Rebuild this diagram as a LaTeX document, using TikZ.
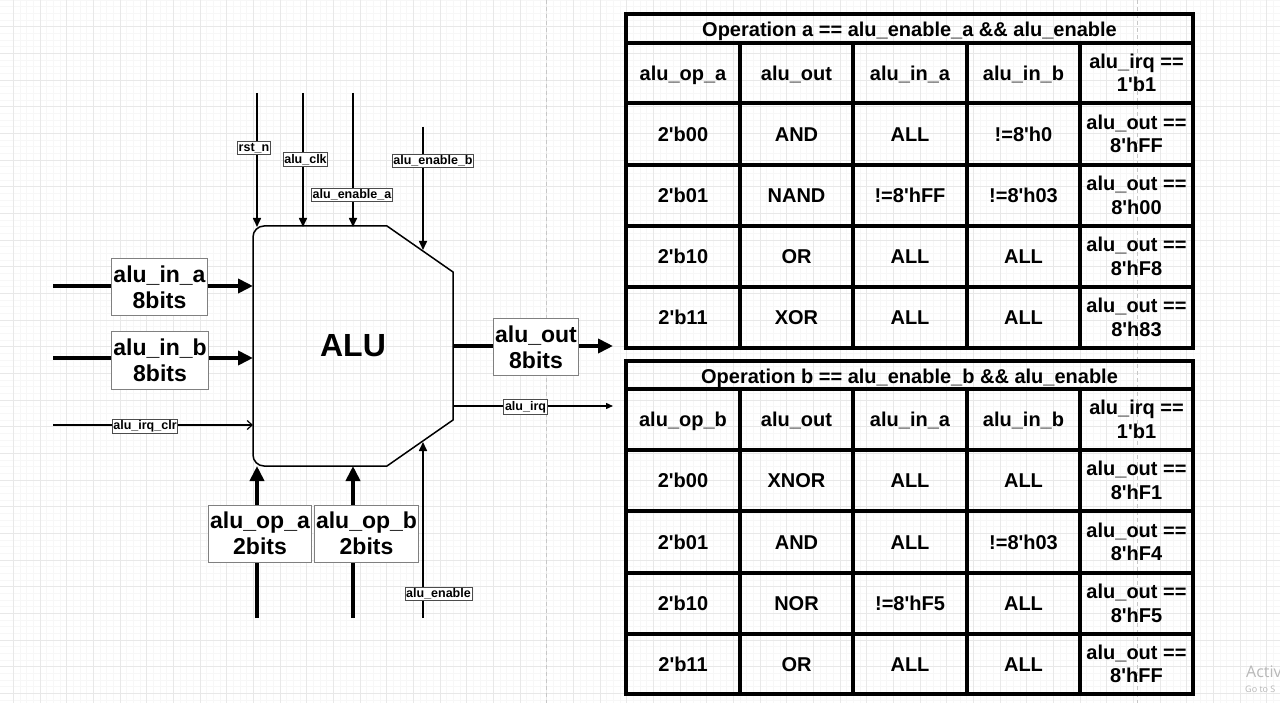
\documentclass[tikz,border=0pt]{standalone}
\usepackage{fontspec}
\newfontfamily\af{Liberation Sans}
\newfontfamily\wmfont{Open Sans}
\usetikzlibrary{arrows.meta}
\begin{document}
\begin{tikzpicture}[x=1pt,y=-1pt]
\tikzset{
 thk/.style={line width=4pt, -{Triangle[length=15pt,width=14pt]}},
 thn/.style={line width=1.6pt, -{Triangle[length=9pt,width=8pt]}},
 hair/.style={line width=1.2pt, -{Straight Barb[length=5pt,width=9pt]}},
 biglbl/.style={draw=black!50, line width=1pt, fill=white, font=\af\bfseries\fontsize{23}{26}\selectfont, align=center, inner xsep=1.5pt, minimum height=57pt},
 smlbl/.style={draw=black!70, line width=0.8pt, fill=white, font=\af\bfseries\fontsize{12.5}{13.5}\selectfont, inner xsep=1.2pt, inner ysep=1.5pt},
 cell2/.style={font=\af\bfseries\fontsize{20}{23.5}\selectfont, align=center, inner sep=0pt},
 cell/.style={font=\af\bfseries\fontsize{20}{23.5}\selectfont, inner sep=0pt, text height=14.5pt, text depth=0pt},
 tbl/.style={line width=3.5pt},
 minorg/.style={black!3, line width=0.6pt},
 majorg/.style={black!9, line width=0.8pt}
}
\useasboundingbox (0,0) rectangle (1280,703);
\fill[white] (0,0) rectangle (1280,703);
% background grid
\foreach \k in {0,...,192} \draw[minorg] (13.333+6.6667*\k,0) -- (13.333+6.6667*\k,703);
\foreach \k in {0,...,106} \draw[minorg] (0,6.6667*\k) -- (1280,6.6667*\k);
\foreach \k in {0,...,47} \draw[majorg] (13.333+26.667*\k,0) -- (13.333+26.667*\k,703);
\foreach \k in {1,...,26} \draw[majorg] (0,26.667*\k) -- (1280,26.667*\k);
\draw[black!22, line width=0.8pt, dash pattern=on 4pt off 3pt] (546,0) -- (546,703);
\draw[black!22, line width=0.8pt, dash pattern=on 4pt off 3pt] (1137,0) -- (1137,703);

% ALU block
\draw[line width=1.5pt, rounded corners=11pt] (320,226) -- (253,226) -- (253,466) -- (320,466)
  [sharp corners] -- (387,466) -- (453,420) -- (453,272) -- (387,226) -- cycle;
\node[font=\af\bfseries\fontsize{32}{34}\selectfont, inner sep=0pt] (alu) at (353,346) {ALU};

% connector end points
\coordinate (rstS) at (257,93);  \coordinate (rstE) at (257,227);
\coordinate (clkS) at (303,93);  \coordinate (clkE) at (303,227);
\coordinate (enaS) at (353,93);  \coordinate (enaE) at (353,227);
\coordinate (enbS) at (423,127); \coordinate (enbE) at (423,250);
\coordinate (inaS) at (53,286);  \coordinate (inaE) at (253,286);
\coordinate (inbS) at (53,358);  \coordinate (inbE) at (253,358);
\coordinate (clrS) at (53,425);  \coordinate (clrE) at (253,425);
\coordinate (opaS) at (257,618); \coordinate (opaE) at (257,466);
\coordinate (opbS) at (353,618); \coordinate (opbE) at (353,466);
\coordinate (enS) at (423,618);  \coordinate (enE) at (423,442);
\coordinate (outS) at (453,346); \coordinate (outE) at (613,346);
\coordinate (irqS) at (453,406); \coordinate (irqE) at (613,406);

\draw[thn] (rstS) -- (rstE);
\draw[thn] (clkS) -- (clkE);
\draw[thn] (enaS) -- (enaE);
\draw[thn] (enbS) -- (enbE);
\draw[thk] (inaS) -- (inaE);
\draw[thk] (inbS) -- (inbE);
\draw[hair] (clrS) -- (clrE);
\draw[thk] (opaS) -- (opaE);
\draw[thk] (opbS) -- (opbE);
\draw[thn] (enS) -- (enE);
\draw[thk] (outS) -- (outE);
\draw[line width=1.3pt, -{Triangle[length=7pt,width=6pt]}] (irqS) -- (irqE);

% labels
\node[smlbl] (lrst) at (254,148) {rst\_n};
\node[smlbl] (lclk) at (305.5,159.5) {alu\_clk};
\node[smlbl] (lena) at (352,195) {alu\_enable\_a};
\node[smlbl] (lenb) at (433,161) {alu\_enable\_b};
\node[smlbl] (lclr) at (145,426.5) {alu\_irq\_clr};
\node[smlbl] (len) at (438.5,594) {alu\_enable};
\node[smlbl] (lirq) at (525.5,407) {alu\_irq};
\node[biglbl] (lina) at (159.5,287.5) {alu\_in\_a\\8bits};
\node[biglbl] (linb) at (160,360.5) {alu\_in\_b\\8bits};
\node[biglbl] (lopa) at (260,533.5) {alu\_op\_a\\2bits};
\node[biglbl] (lopb) at (366.5,533.5) {alu\_op\_b\\2bits};
\node[biglbl] (lout) at (536,347) {alu\_out\\8bits};

% ---------- Table A ----------
\draw[tbl] (626,14) rectangle (1193,348);
\foreach \y in {43,103,165,226,287} \draw[tbl] (626,\y) -- (1193,\y);
\foreach \x in {740,853,967,1080} \draw[tbl] (\x,43) -- (\x,348);
\node[cell] (ta) at (909.5,29.5) {Operation a == alu\_enable\_a \&\& alu\_enable};
\node[cell] (ta01) at (683,73) {alu\_op\_a};
\node[cell] (ta02) at (796.5,73) {alu\_out};
\node[cell] (ta03) at (910,73) {alu\_in\_a};
\node[cell] (ta04) at (1023.5,73) {alu\_in\_b};
\node[cell2] (ta05) at (1136.5,73) {alu\_irq ==\\1\textquotesingle b1};
\node[cell] (ta11) at (683,134) {2\textquotesingle b00};
\node[cell] (ta12) at (796.5,134) {AND};
\node[cell] (ta13) at (910,134) {ALL};
\node[cell] (ta14) at (1023.5,134) {!=8\textquotesingle h0};
\node[cell2] (ta15) at (1136.5,134) {alu\_out ==\\8\textquotesingle hFF};
\node[cell] (ta21) at (683,195.5) {2\textquotesingle b01};
\node[cell] (ta22) at (796.5,195.5) {NAND};
\node[cell] (ta23) at (910,195.5) {!=8\textquotesingle hFF};
\node[cell] (ta24) at (1023.5,195.5) {!=8\textquotesingle h03};
\node[cell2] (ta25) at (1136.5,195.5) {alu\_out ==\\8\textquotesingle h00};
\node[cell] (ta31) at (683,256.5) {2\textquotesingle b10};
\node[cell] (ta32) at (796.5,256.5) {OR};
\node[cell] (ta33) at (910,256.5) {ALL};
\node[cell] (ta34) at (1023.5,256.5) {ALL};
\node[cell2] (ta35) at (1136.5,256.5) {alu\_out ==\\8\textquotesingle hF8};
\node[cell] (ta41) at (683,317.5) {2\textquotesingle b11};
\node[cell] (ta42) at (796.5,317.5) {XOR};
\node[cell] (ta43) at (910,317.5) {ALL};
\node[cell] (ta44) at (1023.5,317.5) {ALL};
\node[cell2] (ta45) at (1136.5,317.5) {alu\_out ==\\8\textquotesingle h83};

% ---------- Table B ----------
\draw[tbl] (626,361) rectangle (1193,694);
\foreach \y in {389,450,511,573,634} \draw[tbl] (626,\y) -- (1193,\y);
\foreach \x in {740,853,967,1080} \draw[tbl] (\x,389) -- (\x,694);
\node[cell] (tb) at (909.5,376) {Operation b == alu\_enable\_b \&\& alu\_enable};
\node[cell] (tb01) at (683,419.5) {alu\_op\_b};
\node[cell] (tb02) at (796.5,419.5) {alu\_out};
\node[cell] (tb03) at (910,419.5) {alu\_in\_a};
\node[cell] (tb04) at (1023.5,419.5) {alu\_in\_b};
\node[cell2] (tb05) at (1136.5,419.5) {alu\_irq ==\\1\textquotesingle b1};
\node[cell] (tb11) at (683,480.5) {2\textquotesingle b00};
\node[cell] (tb12) at (796.5,480.5) {XNOR};
\node[cell] (tb13) at (910,480.5) {ALL};
\node[cell] (tb14) at (1023.5,480.5) {ALL};
\node[cell2] (tb15) at (1136.5,480.5) {alu\_out ==\\8\textquotesingle hF1};
\node[cell] (tb21) at (683,542) {2\textquotesingle b01};
\node[cell] (tb22) at (796.5,542) {AND};
\node[cell] (tb23) at (910,542) {ALL};
\node[cell] (tb24) at (1023.5,542) {!=8\textquotesingle h03};
\node[cell2] (tb25) at (1136.5,542) {alu\_out ==\\8\textquotesingle hF4};
\node[cell] (tb31) at (683,603.5) {2\textquotesingle b10};
\node[cell] (tb32) at (796.5,603.5) {NOR};
\node[cell] (tb33) at (910,603.5) {!=8\textquotesingle hF5};
\node[cell] (tb34) at (1023.5,603.5) {ALL};
\node[cell2] (tb35) at (1136.5,603.5) {alu\_out ==\\8\textquotesingle hF5};
\node[cell] (tb41) at (683,664) {2\textquotesingle b11};
\node[cell] (tb42) at (796.5,664) {OR};
\node[cell] (tb43) at (910,664) {ALL};
\node[cell] (tb44) at (1023.5,664) {ALL};
\node[cell2] (tb45) at (1136.5,664) {alu\_out ==\\8\textquotesingle hFF};

% watermark remnant
\node[anchor=base west, inner sep=0pt, text=black!28, font=\wmfont\fontsize{16}{16}\selectfont] (wm1) at (1246,677) {Activ};
\node[anchor=base west, inner sep=0pt, text=black!28, font=\wmfont\fontsize{9}{9}\selectfont] (wm2) at (1245,692) {Go to S};
\end{tikzpicture}
\end{document}
